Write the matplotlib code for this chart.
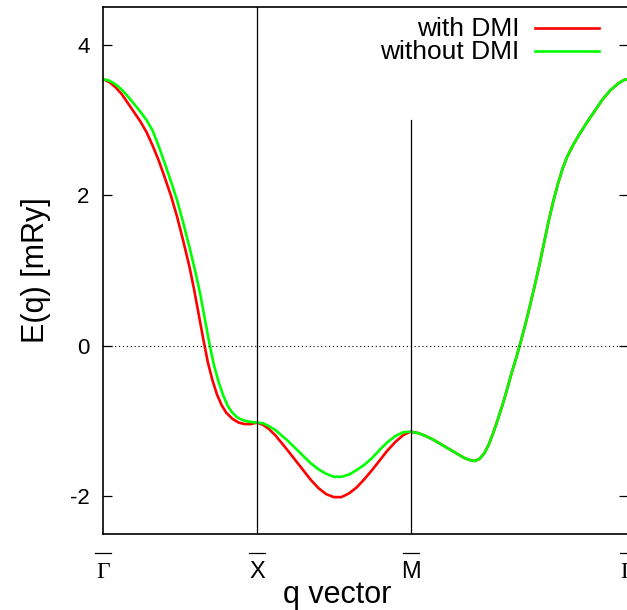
import matplotlib
matplotlib.use("Agg")
import matplotlib.pyplot as plt
import matplotlib.transforms as mtransforms

# Dispersion E(q) along Gamma - X - M - Gamma
# Gamma -> X
q_gx_with = [0.00, 0.04, 0.08, 0.12, 0.16, 0.20, 0.24, 0.28, 0.32, 0.36, 0.40, 0.44, 0.48,
             0.52, 0.56, 0.59, 0.62, 0.65, 0.68, 0.71, 0.74, 0.77, 0.80, 0.84, 0.88, 0.92, 0.96]
E_gx_with = [3.54, 3.50, 3.43, 3.34, 3.22, 3.10, 2.98, 2.84, 2.66, 2.46, 2.23, 1.99, 1.71,
             1.39, 1.05, 0.75, 0.42, 0.09, -0.22, -0.46, -0.65, -0.79, -0.89, -0.97, -1.02, -1.04, -1.04]
q_gx_without = [0.00, 0.04, 0.08, 0.12, 0.16, 0.20, 0.24, 0.28, 0.32, 0.36, 0.40, 0.44, 0.48,
                0.52, 0.56, 0.60, 0.63, 0.66, 0.69, 0.72, 0.75, 0.78, 0.81, 0.84, 0.87, 0.91, 0.95]
E_gx_without = [3.54, 3.52, 3.47, 3.40, 3.31, 3.21, 3.11, 3.00, 2.86, 2.65, 2.42, 2.18, 1.93,
                1.63, 1.31, 0.97, 0.69, 0.36, 0.03, -0.26, -0.48, -0.66, -0.80, -0.89, -0.95, -0.99, -1.01]

# X -> M
q_xm = [1.00, 1.04, 1.08, 1.12, 1.16, 1.20, 1.25, 1.30, 1.35, 1.40, 1.45, 1.50, 1.55,
        1.60, 1.65, 1.70, 1.75, 1.80, 1.85, 1.90, 1.95]
E_xm_with = [-1.02, -1.05, -1.11, -1.19, -1.29, -1.39, -1.52, -1.65, -1.78, -1.89, -1.97, -2.01, -2.01,
             -1.96, -1.88, -1.77, -1.65, -1.52, -1.39, -1.28, -1.19]
E_xm_without = [-1.02, -1.03, -1.07, -1.12, -1.19, -1.26, -1.36, -1.46, -1.56, -1.64, -1.70, -1.74, -1.74,
                -1.71, -1.65, -1.58, -1.49, -1.38, -1.28, -1.20, -1.15]

# M -> Gamma (both curves coincide)
q_mg = [2.00, 2.05, 2.10, 2.15, 2.20, 2.25, 2.30, 2.35, 2.39, 2.42, 2.45, 2.48, 2.51, 2.54,
        2.57, 2.60, 2.63, 2.66, 2.69, 2.72, 2.75, 2.78, 2.81, 2.84, 2.87, 2.90, 2.93, 2.96,
        2.99, 3.02, 3.06, 3.10, 3.15, 3.20, 3.25, 3.30, 3.35, 3.39, 3.414]
E_mg = [-1.14, -1.16, -1.20, -1.25, -1.31, -1.37, -1.43, -1.49, -1.52, -1.53, -1.50, -1.43, -1.31, -1.15,
        -0.97, -0.78, -0.57, -0.35, -0.15, 0.07, 0.30, 0.55, 0.81, 1.08, 1.37, 1.66, 1.92, 2.15,
        2.35, 2.51, 2.67, 2.81, 2.97, 3.12, 3.27, 3.39, 3.48, 3.53, 3.54]

k_pos = [0.0, 1.0, 2.0, 3.414]
k_names = ['Γ', 'X', 'M', 'Γ']
k_fonts = ['Liberation Serif', 'Liberation Sans', 'Liberation Sans', 'Liberation Serif']
y_ticks = [-2, 0, 2, 4]

plt.rcParams['font.family'] = ['Liberation Sans', 'DejaVu Sans']

fig = plt.figure(figsize=(6.27, 6.10), dpi=100)
ax = fig.add_axes([0.165, 0.1246, 0.836, 0.864])

q_with = q_gx_with + q_xm + q_mg
E_with = E_gx_with + E_xm_with + E_mg
q_without = q_gx_without + q_xm + q_mg
E_without = E_gx_without + E_xm_without + E_mg

ax.plot(q_with, E_with, color='#ff0000', lw=1.9, solid_joinstyle='round')
ax.plot(q_without, E_without, color='#00ff00', lw=1.9, solid_joinstyle='round')

ax.axhline(0, color='black', lw=0.8, linestyle=(0, (1, 2.5)))
ax.plot([k_pos[1], k_pos[1]], [-2.5, 4.5], color='black', lw=0.9)
ax.plot([k_pos[2], k_pos[2]], [-2.5, 3.0], color='black', lw=0.9)

ax.set_xlim(0, 3.414)
ax.set_ylim(-2.5, 4.5)
ax.set_yticks(y_ticks)
ax.set_yticklabels([str(v) for v in y_ticks])
ax.set_xticks([])
ax.tick_params(axis='y', direction='in', length=6.5, width=0.9, labelsize=16, pad=10,
               right=True)
for s in ax.spines.values():
    s.set_linewidth(1.2)

# high-symmetry point labels with overbars
trans = mtransforms.blended_transform_factory(ax.transData, ax.transAxes)
for x, name, fam in zip(k_pos, k_names, k_fonts):
    ax.text(x, -0.0835, name, transform=trans, ha='center', va='baseline',
            fontsize=17, family=[fam, 'DejaVu Sans'], clip_on=False)
    ax.plot([x - 0.052, x + 0.052], [-0.036, -0.036], transform=trans,
            color='black', lw=0.9, clip_on=False)

ax.set_xlabel('q vector', fontsize=22, va='baseline')
ax.xaxis.set_label_coords(0.446, -0.131)
ax.set_ylabel('E(q) [mRy]', fontsize=22, va='baseline')
ax.yaxis.set_label_coords(-0.1135, 0.5)

# gnuplot-style key
ax.text(0.793, 0.945, 'with DMI', transform=ax.transAxes, ha='right', va='baseline', fontsize=19)
ax.plot([0.823, 0.945], [0.961, 0.961], transform=ax.transAxes, color='#ff0000', lw=1.9)
ax.text(0.793, 0.901, 'without DMI', transform=ax.transAxes, ha='right', va='baseline', fontsize=19)
ax.plot([0.823, 0.945], [0.917, 0.917], transform=ax.transAxes, color='#00ff00', lw=1.9)

fig.savefig('out.png', dpi=100)
